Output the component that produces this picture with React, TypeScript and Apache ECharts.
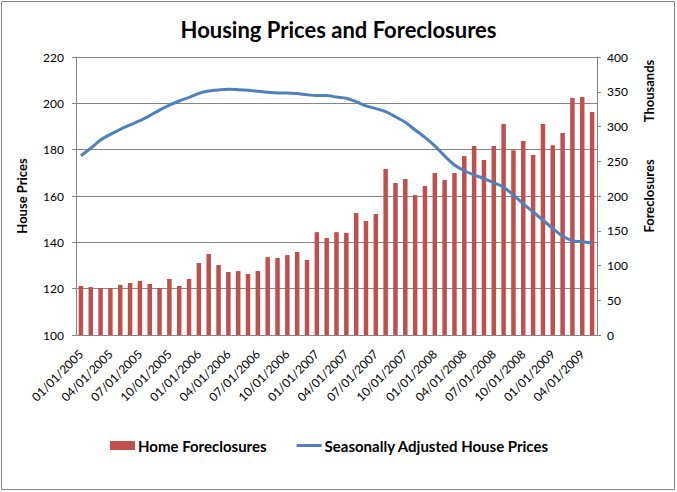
import { useEffect, useRef } from 'react';
import * as echarts from 'echarts';

const months = [
  '01/01/2005', '02/01/2005', '03/01/2005', '04/01/2005', '05/01/2005', '06/01/2005',
  '07/01/2005', '08/01/2005', '09/01/2005', '10/01/2005', '11/01/2005', '12/01/2005',
  '01/01/2006', '02/01/2006', '03/01/2006', '04/01/2006', '05/01/2006', '06/01/2006',
  '07/01/2006', '08/01/2006', '09/01/2006', '10/01/2006', '11/01/2006', '12/01/2006',
  '01/01/2007', '02/01/2007', '03/01/2007', '04/01/2007', '05/01/2007', '06/01/2007',
  '07/01/2007', '08/01/2007', '09/01/2007', '10/01/2007', '11/01/2007', '12/01/2007',
  '01/01/2008', '02/01/2008', '03/01/2008', '04/01/2008', '05/01/2008', '06/01/2008',
  '07/01/2008', '08/01/2008', '09/01/2008', '10/01/2008', '11/01/2008', '12/01/2008',
  '01/01/2009', '02/01/2009', '03/01/2009', '04/01/2009', '05/01/2009',
];

// thousands
const foreclosures = [
  70.5, 69, 67.6, 67.6, 72, 75, 77.7, 73.4, 67.6, 80.6, 70.5, 80.6,
  103.6, 116.5, 100.7, 90.6, 92, 87.8, 92, 112, 110.8, 115, 119.4, 108,
  148, 139.6, 148, 146.8, 175.5, 164, 174, 238.8, 218.7, 224.5, 201.4, 214.4,
  233, 223, 233, 257.5, 272, 251.8, 272, 303.6, 266, 279, 259, 303.6,
  273, 290.6, 341, 342.4, 320.9,
];

const housePrices = [
  177.4, 180.6, 184.2, 186.6, 188.8, 190.7, 192.5, 194.7, 197.1, 199.2, 201, 202.6,
  204.3, 205.3, 205.8, 206.1, 205.9, 205.6, 205.2, 204.8, 204.5, 204.5, 204.2, 203.7,
  203.4, 203.4, 202.7, 202.2, 200.7, 198.9, 197.7, 196.4, 194.2, 191.8, 188.5, 185.3,
  181.6, 177.3, 173.4, 170.9, 169.1, 167.5, 165.7, 163.8, 160.4, 156.6, 153.1, 149.6,
  146, 142.7, 140.7, 140.3, 139.8,
];

const FONT = 'Lato, "Noto Sans", sans-serif';

export default function App() {
  const chartRef = useRef<HTMLDivElement>(null);

  useEffect(() => {
    if (!chartRef.current) return;
    const chart = echarts.init(chartRef.current, undefined, { renderer: 'svg' });

    const axisNameStyle = {
      fill: '#000',
      font: `bold 13px ${FONT}`,
      align: 'center',
      verticalAlign: 'middle',
    };

    const option = {
      animation: false,
      backgroundColor: '#fff',
      textStyle: { fontFamily: FONT },
      title: {
        text: 'Housing Prices and Foreclosures',
        left: 'center',
        top: 13,
        textStyle: { fontSize: 22, fontWeight: 'bold', color: '#000', fontFamily: FONT },
      },
      graphic: [
        {
          type: 'rect',
          shape: { x: 1.5, y: 1.5, width: 673, height: 488 },
          style: { fill: 'none', stroke: '#868686', lineWidth: 1 },
          silent: true,
        },
        {
          type: 'text',
          x: 22,
          y: 196,
          rotation: Math.PI / 2,
          style: { ...axisNameStyle, text: 'House Prices' },
        },
        {
          type: 'text',
          x: 649,
          y: 196,
          rotation: Math.PI / 2,
          style: { ...axisNameStyle, text: 'Foreclosures' },
        },
        {
          type: 'text',
          x: 649,
          y: 91,
          rotation: Math.PI / 2,
          style: { ...axisNameStyle, text: 'Thousands' },
        },
      ],
      legend: {
        left: 105,
        top: 433,
        itemWidth: 25,
        itemHeight: 9,
        itemGap: 30,
        selectedMode: false,
        textStyle: { fontSize: 15, fontWeight: 'bold', color: '#000', fontFamily: FONT, padding: [0, 0, 0, -2] },
        data: [
          { name: 'Home Foreclosures', icon: 'rect' },
          { name: 'Seasonally Adjusted House Prices', icon: 'path://M0,0 L25,0 L25,3 L0,3 Z' },
        ],
      },
      grid: { left: 76, right: 80, top: 57, bottom: 157 },
      xAxis: {
        type: 'category',
        data: months,
        boundaryGap: true,
        axisLine: { show: true, lineStyle: { color: '#868686' } },
        axisTick: { show: false },
        axisLabel: {
          interval: 2,
          rotate: 45,
          margin: 17,
          fontSize: 12,
          color: '#000',
          fontFamily: FONT,
        },
      },
      yAxis: [
        {
          type: 'value',
          min: 100,
          max: 220,
          interval: 20,
          axisLine: { show: true, lineStyle: { color: '#868686' } },
          axisTick: { show: true, length: 4, lineStyle: { color: '#868686' } },
          axisLabel: { margin: 12, fontSize: 12, color: '#000', fontFamily: FONT },
          splitLine: { show: true, lineStyle: { color: '#868686', width: 1 } },
        },
        {
          type: 'value',
          min: 0,
          max: 400,
          interval: 50,
          position: 'right',
          axisLine: { show: true, lineStyle: { color: '#868686' } },
          axisTick: { show: true, length: 4, lineStyle: { color: '#868686' } },
          axisLabel: { margin: 10, fontSize: 12, color: '#000', fontFamily: FONT },
          splitLine: { show: false },
        },
      ],
      series: [
        {
          name: 'Home Foreclosures',
          type: 'bar',
          yAxisIndex: 1,
          data: foreclosures,
          barWidth: 4.5,
          itemStyle: { color: '#C0504D' },
          z: 2,
        },
        {
          name: 'Seasonally Adjusted House Prices',
          type: 'line',
          yAxisIndex: 0,
          data: housePrices,
          smooth: 0.3,
          symbol: 'none',
          showSymbol: false,
          lineStyle: { color: '#4F81BD', width: 3 },
          itemStyle: { color: '#4F81BD' },
          z: 3,
        },
      ],
    };

    chart.setOption(option);

    return () => {
      chart.dispose();
    };
  }, []);

  return (
    <div
      ref={chartRef}
      style={{ position: 'absolute', left: 0, top: 0, width: 677, height: 492 }}
    />
  );
}
